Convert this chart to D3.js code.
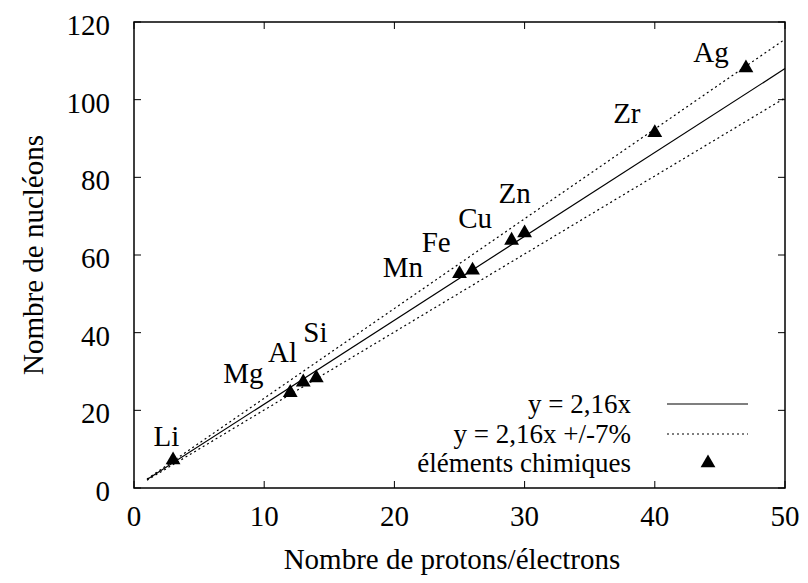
<!DOCTYPE html>
<html><head><meta charset="utf-8">
<script src="https://cdn.jsdelivr.net/npm/d3@7"></script>
</head>
<body style="margin:0">
<svg id="c" width="808" height="583"></svg>
<script>
const elements = ["Li","Mg","Al","Si","Mn","Fe","Cu","Zn","Zr","Ag"];
const protons  = [3,12,13,14,25,26,29,30,40,47];
const nucleons = [6.94,24.3,27,28.1,54.9,55.8,63.5,65.4,91.2,107.9];
const labelX   = [1.5,6.85,10.3,13.0,19.1,22.1,24.9,28.0,36.8,42.95];
const labelY   = [10.8,27.0,32.4,37.6,54.3,60.8,67.0,73.4,94.0,109.7];
const slope = 2.16, tol = 0.07;
const lineX = [1,50];
const xTicks = [0,10,20,30,40,50];
const yTicks = [0,20,40,60,80,100,120];
const legendLabels = ["y = 2,16x","y = 2,16x +/-7%","éléments chimiques"];

const svg = d3.select("#c");
const L=134,R=785,T=22,B=488;
const x = d3.scaleLinear().domain([0,50]).range([L,R]);
const y = d3.scaleLinear().domain([0,120]).range([B,T]);
function txt(xp,yp,s,anchor,fs){
  return svg.append("text").attr("x",xp).attr("y",yp).attr("text-anchor",anchor||"start")
    .style("font-family",`"Liberation Serif"`).style("font-size",(fs||29)+"px").text(s);
}

// frame
svg.append("rect").attr("x",L).attr("y",T).attr("width",R-L).attr("height",B-T)
  .attr("fill","none").attr("stroke","#000").attr("stroke-width",1.5);
// ticks (mirrored)
const tk=7;
xTicks.forEach(v=>{
  svg.append("line").attr("x1",x(v)).attr("x2",x(v)).attr("y1",B).attr("y2",B-tk).attr("stroke","#000");
  svg.append("line").attr("x1",x(v)).attr("x2",x(v)).attr("y1",T).attr("y2",T+tk).attr("stroke","#000");
  txt(x(v),B+38,String(v),"middle");
});
yTicks.forEach(v=>{
  svg.append("line").attr("x1",L).attr("x2",L+tk).attr("y1",y(v)).attr("y2",y(v)).attr("stroke","#000");
  svg.append("line").attr("x1",R).attr("x2",R-tk).attr("y1",y(v)).attr("y2",y(v)).attr("stroke","#000");
  txt(110,y(v)+13,String(v),"end");
});

// lines
const line = d3.line().x(d=>x(d[0])).y(d=>y(d[1]));
[[1,null],[1+tol,"2,3"],[1-tol,"2,3"]].forEach(([f,dash])=>{
  svg.append("path").datum(lineX.map(v=>[v,slope*f*v])).attr("d",line)
    .attr("fill","none").attr("stroke","#000").attr("stroke-width",1.2)
    .attr("stroke-dasharray",dash);
});

// triangles
const tri = d3.symbol().type(d3.symbolTriangle).size(95);
svg.selectAll("path.pt").data(protons).enter().append("path").attr("class","pt")
  .attr("d",tri).attr("transform",(d,i)=>`translate(${x(d)},${y(nucleons[i])-1})`).attr("fill","#000");

// labels
elements.forEach((e,i)=>{ txt(x(labelX[i]),y(labelY[i]),e); });

// legend
const rows=[404,434,463];
legendLabels.forEach((t,i)=>{ txt(631,rows[i]+9,t,"end",27); });
svg.append("line").attr("x1",667).attr("x2",748).attr("y1",rows[0]).attr("y2",rows[0]).attr("stroke","#000").attr("stroke-width",1.2);
svg.append("line").attr("x1",667).attr("x2",748).attr("y1",rows[1]).attr("y2",rows[1]).attr("stroke","#000").attr("stroke-width",1.2).attr("stroke-dasharray","2,3");
svg.append("path").attr("d",tri).attr("transform",`translate(708,${rows[2]})`).attr("fill","#000");

// axis titles
txt(452,569,"Nombre de protons/électrons","middle");
txt(0,0,"Nombre de nucléons","middle").attr("transform","translate(43,255) rotate(-90)");
</script></body></html>
